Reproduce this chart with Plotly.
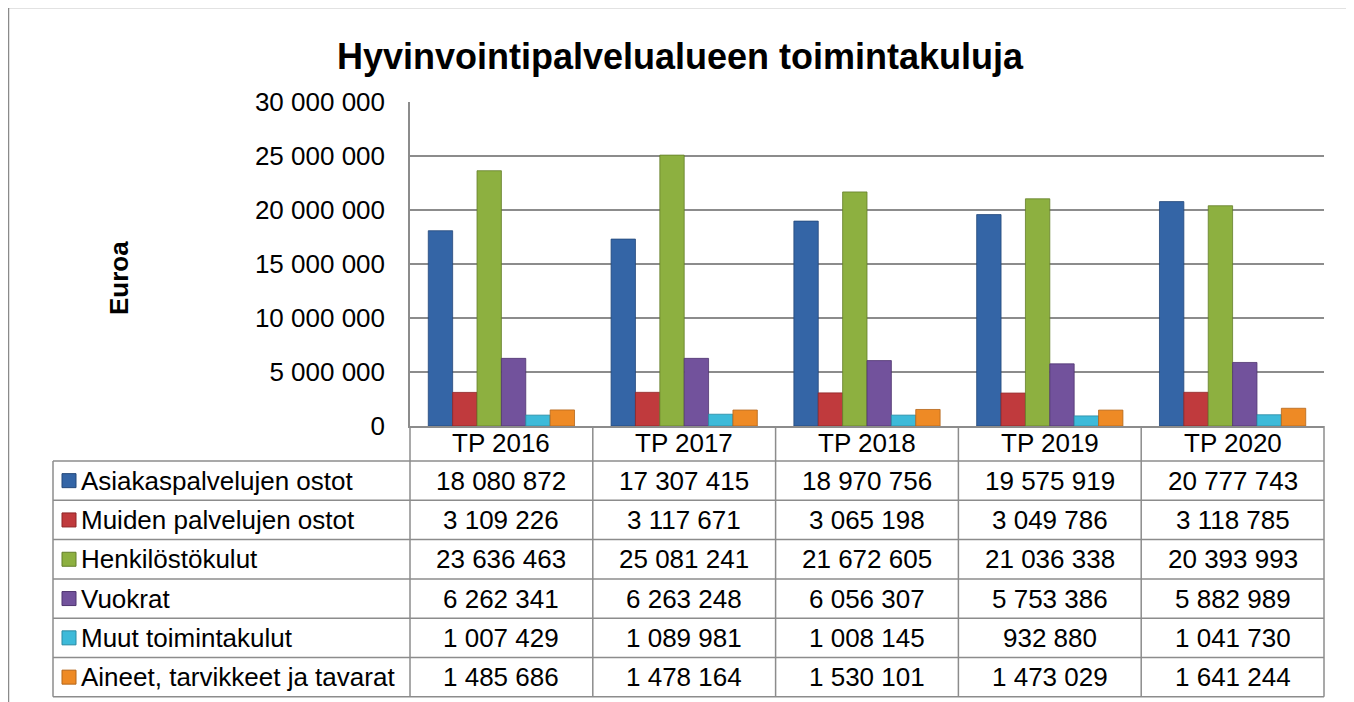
import plotly.graph_objects as go

# ---- data ----
categories = ["TP 2016", "TP 2017", "TP 2018", "TP 2019", "TP 2020"]
series_names = [
    "Asiakaspalvelujen ostot",
    "Muiden palvelujen ostot",
    "Henkilöstökulut",
    "Vuokrat",
    "Muut toimintakulut",
    "Aineet, tarvikkeet ja tavarat",
]
asiakaspalvelujen_ostot = [18080872, 17307415, 18970756, 19575919, 20777743]
muiden_palvelujen_ostot = [3109226, 3117671, 3065198, 3049786, 3118785]
henkilostokulut = [23636463, 25081241, 21672605, 21036338, 20393993]
vuokrat = [6262341, 6263248, 6056307, 5753386, 5882989]
muut_toimintakulut = [1007429, 1089981, 1008145, 932880, 1041730]
aineet_tarvikkeet = [1485686, 1478164, 1530101, 1473029, 1641244]
y_ticks = [0, 5000000, 10000000, 15000000, 20000000, 25000000, 30000000]

series_values = [asiakaspalvelujen_ostot, muiden_palvelujen_ostot, henkilostokulut,
                 vuokrat, muut_toimintakulut, aineet_tarvikkeet]
colors = ["#3465A6", "#C03A3D", "#8DB040", "#72529C", "#3DBAD9", "#EE8A25"]
edge_colors = ["#23487A", "#8E2426", "#637E28", "#4F3570", "#2A8AA3", "#B4661A"]

# page body has an 8px margin: figure is drawn at (8, 8) in the window
OFF = 8
W, H = 1354 - OFF, 702 - OFF
# plot area in window coordinates
L, R, T, B = 410, 1324, 102, 426
FONT = "Arial, Liberation Sans, sans-serif"
GRID = "#8C8C8C"
TXT = 26


def px(xw):
    return (xw - L) / (R - L)


def py(yw):
    return (B - yw) / (B - T)


def fmt(v):
    return f"{v:,}".replace(",", " ")


fig = go.Figure()
for name, vals, c, ec in zip(series_names, series_values, colors, edge_colors):
    fig.add_trace(go.Bar(name=name, x=categories, y=vals,
                         marker=dict(color=c, line=dict(color=ec, width=0.8))))

shapes = []
annotations = []

# outer chart border
shapes.append(dict(type="rect", xref="paper", yref="paper",
                   x0=px(8.5), x1=px(1351), y0=py(712), y1=py(7.5),
                   line=dict(color="#8A8A8A", width=1.5), fillcolor="rgba(0,0,0,0)", layer="below"))

# data table geometry
row_top = 461
row_h = 39.3
n_rows = len(series_names)
table_bottom = row_top + row_h * n_rows
legend_left = 53
col_w = (R - L) / len(categories)

# horizontal table lines
for i in range(n_rows + 1):
    yy = row_top + i * row_h
    shapes.append(dict(type="line", xref="paper", yref="paper",
                       x0=px(legend_left), x1=px(R), y0=py(yy), y1=py(yy),
                       line=dict(color=GRID, width=1.5)))
# vertical table lines
for j in range(len(categories) + 1):
    xx = L + j * col_w
    shapes.append(dict(type="line", xref="paper", yref="paper",
                       x0=px(xx), x1=px(xx), y0=py(B), y1=py(table_bottom),
                       line=dict(color=GRID, width=1.5)))
shapes.append(dict(type="line", xref="paper", yref="paper",
                   x0=px(legend_left), x1=px(legend_left), y0=py(row_top), y1=py(table_bottom),
                   line=dict(color=GRID, width=1.5)))

# header row: category labels
for j, cat in enumerate(categories):
    annotations.append(dict(text=cat, xref="paper", yref="paper",
                            x=px(L + (j + 0.5) * col_w), y=py((B + row_top) / 2),
                            xanchor="center", yanchor="middle", showarrow=False,
                            font=dict(family=FONT, size=TXT, color="black")))

# table rows: legend keys, names, values
for i, (name, vals, c, ec) in enumerate(zip(series_names, series_values, colors, edge_colors)):
    cy = row_top + i * row_h + row_h / 2
    shapes.append(dict(type="rect", xref="paper", yref="paper",
                       x0=px(62), x1=px(76), y0=py(cy + 7), y1=py(cy - 7),
                       line=dict(color=ec, width=1), fillcolor=c))
    annotations.append(dict(text=name, xref="paper", yref="paper", x=px(79), y=py(cy),
                            xanchor="left", yanchor="middle", showarrow=False,
                            font=dict(family=FONT, size=TXT, color="black")))
    for j, v in enumerate(vals):
        annotations.append(dict(text=fmt(v), xref="paper", yref="paper",
                                x=px(L + (j + 0.5) * col_w), y=py(cy),
                                xanchor="center", yanchor="middle", showarrow=False,
                                font=dict(family=FONT, size=TXT, color="black")))

# y axis title
annotations.append(dict(text="<b>Euroa</b>", xref="paper", yref="paper", x=px(119), y=py(278),
                        textangle=-90, showarrow=False, xanchor="center", yanchor="middle",
                        font=dict(family=FONT, size=26, color="black")))

fig.update_layout(
    width=W, height=H,
    margin=dict(l=L - OFF, r=1354 - R, t=T - OFF, b=702 - B),
    paper_bgcolor="white", plot_bgcolor="white",
    separators=", ",
    barmode="group", bargap=0.2, bargroupgap=0,
    showlegend=False,
    title=dict(text="<b>Hyvinvointipalvelualueen toimintakuluja</b>",
               x=(680 - OFF) / W, xanchor="center", xref="container",
               y=1 - (56 - OFF) / H, yanchor="middle", yref="container",
               font=dict(family=FONT, size=36, color="black")),
    font=dict(family=FONT, color="black"),
    xaxis=dict(showgrid=False, showline=True, linecolor=GRID, linewidth=1.5,
               ticks="", showticklabels=False),
    yaxis=dict(range=[0, 30000000], tickvals=y_ticks, tickformat=",d",
               showgrid=True, gridcolor=GRID, gridwidth=1.5,
               showline=True, linecolor=GRID, linewidth=1.5,
               ticks="", ticklabelstandoff=18, zeroline=False,
               tickfont=dict(family=FONT, size=TXT, color="black")),
    shapes=shapes, annotations=annotations,
)

fig.write_html("out.html")
